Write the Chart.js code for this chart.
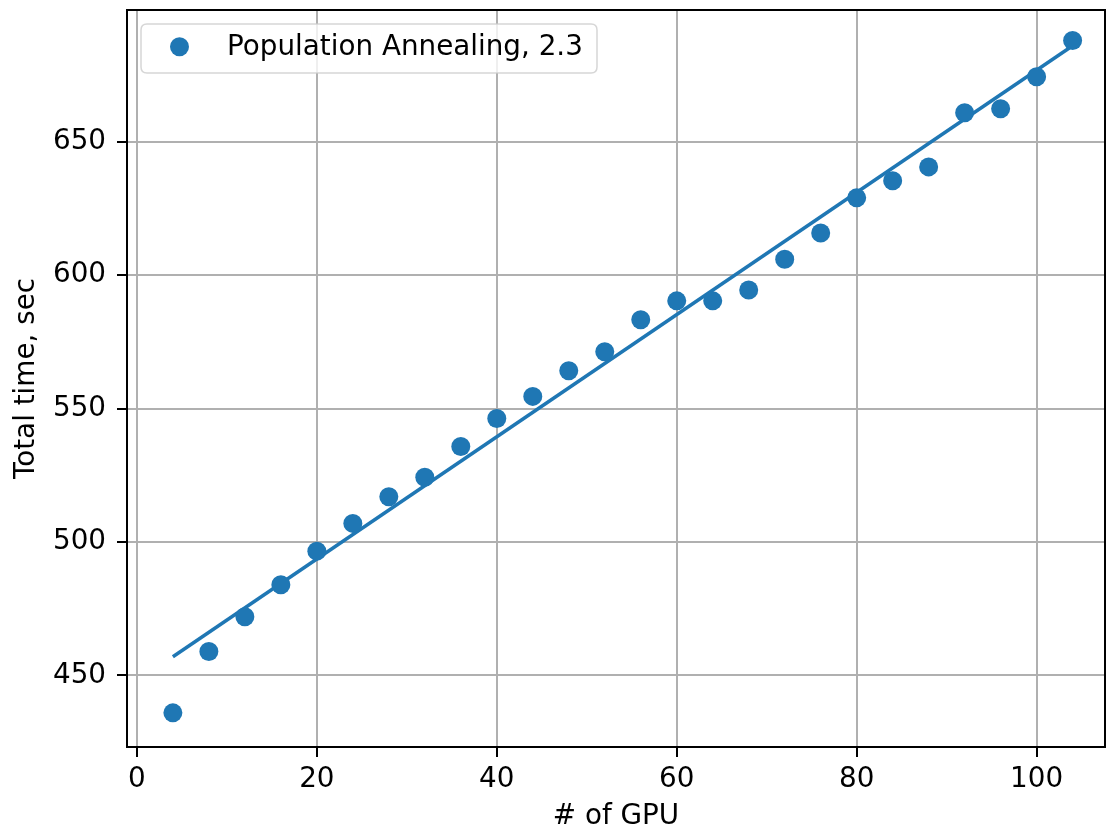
<!DOCTYPE html>
<html>
<head>
<meta charset="utf-8">
<script src="https://cdn.jsdelivr.net/npm/chart.js@4/dist/chart.umd.min.js"></script>
<style>
html,body{margin:0;padding:0;background:#fff;}
canvas{display:block;}
</style>
</head>
<body>
<canvas id="c" width="1107" height="829"></canvas>
<script>
const gpus = [4, 8, 12, 16, 20, 24, 28, 32, 36, 40, 44, 48, 52, 56, 60, 64, 68, 72, 76, 80, 84, 88, 92, 96, 100, 104];
const totalTime = [436, 459, 472, 484, 496.6, 507, 517, 524.3, 535.8, 546.3, 554.6, 564.2, 571.3, 583.3, 590.4, 590.4, 594.5, 606, 615.8, 629, 635.4, 640.6, 660.9, 662.4, 674.4, 688];
const fitX = [4, 104];
const fitY = [457, 686];
const xTicks = [0, 20, 40, 60, 80, 100];
const yTicks = [450, 500, 550, 600, 650];
const seriesLabel = 'Population Annealing, 2.3';
const xTitle = '# of GPU';
const yTitle = 'Total time, sec';

const BLUE = '#1f77b4';
const FONT = "'DejaVu Sans', sans-serif";
const FS = 27.8;

const framePlugin = {
  id: 'frame',
  afterDatasetsDraw(chart) {
    const a = chart.chartArea, ctx = chart.ctx;
    ctx.save();
    ctx.strokeStyle = '#000';
    ctx.lineWidth = 2;
    ctx.strokeRect(a.left, a.top, a.right - a.left, a.bottom - a.top);
    ctx.restore();
  },
  afterDraw(chart) {
    const a = chart.chartArea, ctx = chart.ctx;
    ctx.save();
    const bx = a.left + 14, by = a.top + 14, bw = 456, bh = 49, r = 6;
    ctx.beginPath();
    ctx.moveTo(bx + r, by);
    ctx.lineTo(bx + bw - r, by);
    ctx.quadraticCurveTo(bx + bw, by, bx + bw, by + r);
    ctx.lineTo(bx + bw, by + bh - r);
    ctx.quadraticCurveTo(bx + bw, by + bh, bx + bw - r, by + bh);
    ctx.lineTo(bx + r, by + bh);
    ctx.quadraticCurveTo(bx, by + bh, bx, by + bh - r);
    ctx.lineTo(bx, by + r);
    ctx.quadraticCurveTo(bx, by, bx + r, by);
    ctx.closePath();
    ctx.fillStyle = 'rgba(255,255,255,0.8)';
    ctx.fill();
    ctx.strokeStyle = 'rgba(204,204,204,0.8)';
    ctx.lineWidth = 1.5;
    ctx.stroke();
    ctx.beginPath();
    ctx.arc(bx + 38.5, by + 22.7, 9.5, 0, Math.PI * 2);
    ctx.fillStyle = BLUE;
    ctx.fill();
    ctx.fillStyle = '#000';
    ctx.font = FS + 'px ' + FONT;
    ctx.textBaseline = 'alphabetic';
    ctx.textAlign = 'left';
    ctx.fillText(seriesLabel, bx + 86, by + 31);
    ctx.restore();
  }
};

new Chart(document.getElementById('c'), {
  data: {
    datasets: [
      {
        type: 'line',
        label: 'fit',
        data: fitX.map((x, i) => ({x: x, y: fitY[i]})),
        borderColor: BLUE,
        borderWidth: 3.5,
        pointRadius: 0,
        fill: false,
        order: 2
      },
      {
        type: 'scatter',
        label: seriesLabel,
        data: gpus.map((x, i) => ({x: x, y: totalTime[i]})),
        backgroundColor: BLUE,
        borderWidth: 0,
        pointRadius: 9.5,
        order: 1
      }
    ]
  },
  options: {
    responsive: false,
    animation: false,
    layout: {autoPadding: false, padding: {top: 10, right: 2, left: 0, bottom: 0}},
    plugins: {legend: {display: false}, tooltip: {enabled: false}},
    scales: {
      x: {
        type: 'linear',
        min: -1.1,
        max: 107.6,
        afterBuildTicks(s) { s.ticks = xTicks.map(v => ({value: v})); },
        afterFit(s) { s.height = 82; s.paddingLeft = 0; s.paddingRight = 0; },
        grid: {color: '#b0b0b0', lineWidth: 2, tickLength: 10, tickColor: '#000', tickWidth: 2},
        border: {color: '#000', width: 2},
        ticks: {color: '#000', font: {family: FONT, size: FS}, padding: 6, maxRotation: 0},
        title: {display: true, text: xTitle, color: '#000', font: {family: FONT, size: FS, lineHeight: 1.0}, padding: {top: 0, bottom: -2}}
      },
      y: {
        type: 'linear',
        min: 423.2,
        max: 699.4,
        afterBuildTicks(s) { s.ticks = yTicks.map(v => ({value: v})); },
        afterFit(s) { s.width = 127; s.paddingTop = 0; s.paddingBottom = 0; },
        grid: {color: '#b0b0b0', lineWidth: 2, tickLength: 10, tickColor: '#000', tickWidth: 2},
        border: {color: '#000', width: 2},
        ticks: {color: '#000', font: {family: FONT, size: FS}, padding: 11},
        title: {display: true, text: yTitle, color: '#000', font: {family: FONT, size: FS, lineHeight: 1.0}, padding: {top: 13, bottom: 0}}
      }
    }
  },
  plugins: [framePlugin]
});
</script>
</body>
</html>
